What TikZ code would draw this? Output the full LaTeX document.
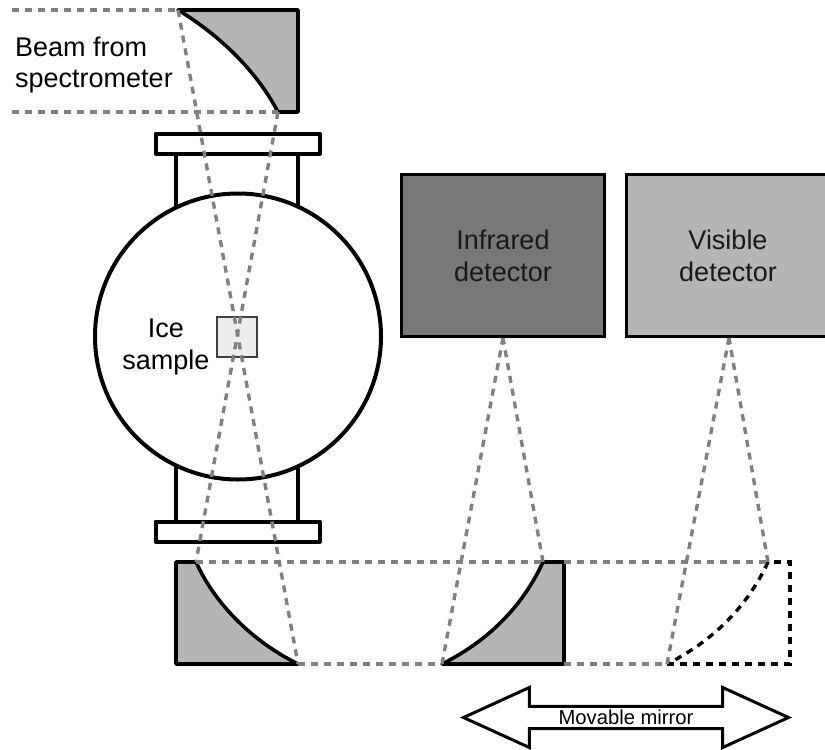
\documentclass[tikz,border=0pt]{standalone}
\usepackage{fontspec}
\setmainfont{Liberation Sans}
\usepackage{xcolor}
\usetikzlibrary{shapes.arrows, positioning, calc}
\definecolor{mirrorgray}{gray}{0.71}
\definecolor{beamgray}{gray}{0.5}
\definecolor{irgray}{gray}{0.47}
\definecolor{visgray}{gray}{0.71}
\definecolor{icegray}{gray}{0.93}
\definecolor{inkdark}{gray}{0.1}

\begin{document}
\begin{tikzpicture}[
    x=1pt, y=-1pt,
    wall/.style={draw=black, line width=3.6pt, line join=round},
    mirror/.style={wall, fill=mirrorgray},
    flange/.style={wall, line width=4pt, fill=white},
    beam/.style={draw=beamgray, line width=3.4pt, dash pattern=on 7pt off 6pt},
    ghost/.style={draw=black, line width=3.4pt, dash pattern=on 7pt off 6pt},
    detector/.style={rectangle, draw=black, line width=3.4pt, minimum width=203pt, minimum height=162pt, inner sep=0pt, align=center, font=\fontsize{27}{32}\selectfont, text=inkdark},
    caption/.style={align=center, inner sep=0pt, text=black}
]
\useasboundingbox (0,0) rectangle (825,750);

% Chamber
\draw[wall] (176,154) -- (176,215) (298,154) -- (298,215);
\draw[wall] (176,460) -- (176,521) (298,460) -- (298,521);
\node[circle, wall, line width=4pt, fill=white, minimum size=286pt, inner sep=0pt] (chamber) at (238,336.5) {};
\node[rectangle, flange, minimum width=164pt, minimum height=20pt, inner sep=0pt] (topflange) at (237.5,143.5) {};
\node[rectangle, flange, minimum width=164pt, minimum height=20pt, inner sep=0pt] (botflange) at (237.5,531.5) {};
\node[rectangle, draw=black!75, line width=2pt, fill=icegray, minimum size=40pt, inner sep=0pt] (ice) at (237,337) {};

% Detectors
\node[detector, fill=irgray] (irdet) at (503,255.5) {Infrared\\detector};
\node[detector, fill=visgray, right=18.6pt of irdet] (visdet) {Visible\\detector};

% Beam points
\coordinate (srcA) at (12,10);
\coordinate (srcB) at (12,112);
\coordinate (topA) at (178,10);
\coordinate (topB) at (278,112);
\coordinate (botA) at (196,562);
\coordinate (botB) at (298,664);
\coordinate (movA) at (543,562);
\coordinate (movB) at (442,664);
\coordinate (movC) at (564,562);
\coordinate (movD) at (564,664);
\coordinate (ghoA) at (768,562);
\coordinate (ghoB) at (667,664);
\coordinate (irfoc) at (503,338);
\coordinate (visfoc) at (729,338);

% Mirrors
\draw[mirror] (topA) -- (298,10) -- (298,112) -- (topB) .. controls (255,68) and (216,33) .. (topA) -- cycle;
\draw[mirror] (botA) -- (176,562) -- (176,664) -- (botB) .. controls (254,642) and (216,606) .. (botA) -- cycle;
\draw[mirror] (movB) -- (movD) -- (movC) -- (movA) .. controls (520,612) and (482,644) .. (movB) -- cycle;

% Moved mirror position
\draw[ghost] (ghoA) .. controls (745,612) and (707,644) .. (ghoB);
\draw[ghost] (ghoB) -- (790,664) -- (790,562) -- (ghoA);

% Beams
\draw[beam] (srcA) -- (topA);
\draw[beam] (srcB) -- (topB);
\draw[beam] (topA) -- (botB);
\draw[beam] (topB) -- (botA);
\draw[beam] (botB) -- (movB);
\draw[beam] (botA) -- (movA);
\draw[beam] (movD) -- (ghoB);
\draw[beam] (movC) -- (ghoA);
\draw[beam] (movB) -- (irfoc);
\draw[beam] (movA) -- (irfoc);
\draw[beam] (ghoB) -- (visfoc);
\draw[beam] (ghoA) -- (visfoc);

% Labels
\node[caption, font=\fontsize{27}{31}\selectfont, align=left, anchor=west] (beamlabel) at (15,65) {Beam from\\spectrometer};
\node[caption, font=\fontsize{27}{32}\selectfont] (icelabel) at (166,347) {Ice\\sample};

% Movable mirror arrow
\node[double arrow, draw=black, line width=3pt, fill=white, inner sep=0pt, minimum height=325pt, minimum width=60pt, double arrow head extend=15pt, double arrow tip angle=49, font=\fontsize{20.2}{24}\selectfont] (movarrow) at (626,717.5) {Movable mirror};

\end{tikzpicture}
\end{document}
